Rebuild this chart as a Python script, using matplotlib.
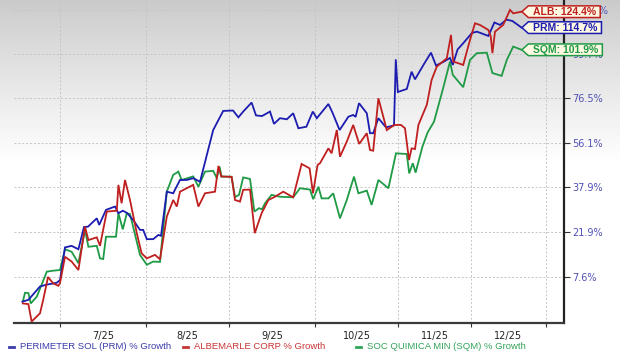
import numpy as np
import matplotlib
matplotlib.use("Agg")
import matplotlib.pyplot as plt
from matplotlib.path import Path
from matplotlib.lines import Line2D
from matplotlib.ticker import NullLocator

# x = trading-day position from the first point, y = % growth
prm_day = [0.1, 1.6, 4.5, 6.0, 8.7, 9.5, 10.75, 12.4, 14.1, 15.5, 16.5, 18.7, 19.3, 21.0, 23.25, 24.1,
           25.2, 26.25, 27.8, 29.5, 30.3, 31.2, 32.8, 34.1, 34.75, 36.2, 37.8, 39.5, 41.2, 42.8, 44.5,
           47.8, 50.3, 52.75, 54.1, 55.3, 57.4, 58.5, 60.0, 62.0, 63.0, 64.5, 66.2, 67.8, 69.1, 71.1,
           72.7, 73.7, 76.6, 77.6, 79.4, 81.6, 82.8, 83.4, 84.25, 86.2, 87.0, 87.8, 89.1, 91.0, 93.0,
           93.45, 93.95, 96.2, 97.4, 98.25, 100.5, 102.25, 103.5, 105.5, 107.0, 107.7, 108.9, 110.3,
           112.5, 113.75, 116.6, 118.1, 119.5, 121.1, 122.6, 124.9]
prm_pct = [0.4, 0.9, 4.7, 5.2, 5.8, 6.6, 16.7, 17.2, 16.1, 23.5, 23.6, 26.5, 24.2, 29.5, 30.7, 28.3,
           29.2, 28.4, 25.9, 22.5, 22.5, 19.4, 19.4, 20.8, 20.5, 36.2, 35.6, 40.7, 40.7, 41.4, 40.0,
           61.6, 70.4, 70.6, 67.4, 70.1, 74.4, 68.3, 68.0, 70.1, 64.4, 67.0, 66.5, 69.3, 62.4, 63.1,
           70.1, 67.0, 73.7, 69.7, 61.6, 67.7, 68.5, 67.6, 74.1, 69.3, 60.2, 60.2, 67.0, 62.8, 63.7,
           96.6, 79.6, 81.1, 90.0, 86.0, 94.1, 100.3, 93.3, 95.4, 97.4, 93.6, 102.1, 105.6,
           111.6, 112.3, 109.8, 117.8, 116.3, 119.5, 118.7, 114.7]

alb_day = [0.2, 1.6, 2.4, 4.5, 5.3, 6.5, 7.8, 9.1, 9.5, 10.75, 12.4, 14.1, 15.75, 16.6, 18.7, 19.5,
           21.2, 23.7, 24.1, 24.9, 25.75, 27.0, 28.7, 29.9, 31.2, 33.25, 34.5, 36.2, 37.8, 38.7, 39.5,
           42.8, 44.1, 45.75, 48.25, 49.1, 49.8, 52.4, 53.25, 54.5, 55.3, 57.0, 58.2, 59.9, 61.6,
           63.25, 65.3, 67.8, 69.9, 71.9, 72.75, 73.9, 74.5, 76.6, 77.4, 78.7, 79.5, 81.2, 82.8, 84.3,
           86.2, 87.0, 87.8, 89.1, 91.2, 93.1, 94.75, 95.75, 96.75, 97.4, 98.25, 99.1, 101.2, 102.4,
           103.7, 106.2, 107.25, 107.8, 109.1, 110.3, 112.0, 113.25, 114.5, 116.6, 117.2, 117.6,
           118.25, 120.3, 122.0, 122.8, 124.9]
alb_pct = [-0.1, -0.3, -5.0, -2.8, 0.9, 7.5, 5.6, 4.9, 5.7, 13.7, 12.2, 9.6, 23.6, 19.1, 20.0, 17.2,
           28.9, 29.2, 38.8, 31.9, 40.7, 33.1, 21.4, 14.8, 13.2, 14.3, 12.9, 27.1, 33.1, 30.7, 36.2,
           38.8, 30.7, 35.6, 36.2, 46.3, 42.1, 41.9, 33.1, 32.5, 36.9, 37.0, 21.4, 28.3, 33.1,
           34.3, 36.2, 34.1, 47.1, 45.3, 35.6, 46.7, 47.4, 53.6, 51.5, 61.6, 50.1, 56.5, 63.9, 55.5,
           60.2, 52.9, 52.6, 76.5, 61.6, 63.9, 63.9, 62.4, 48.7, 53.6, 53.3, 63.9, 73.3, 85.7,
           92.7, 97.2, 110.4, 95.4, 94.5, 93.6, 107.5, 117.3, 116.3, 113.3, 109.4, 100.0,
           112.3, 116.3, 125.5, 123.4, 124.4]

sqm_day = [0.2, 0.75, 1.6, 2.2, 3.7, 4.9, 6.2, 7.8, 9.5, 10.75, 12.4, 14.1, 15.75, 16.6, 18.7, 19.5,
           20.3, 21.0, 23.5, 24.1, 25.2, 26.2, 27.0, 29.5, 31.2, 32.8, 34.5, 36.2, 37.8, 39.1, 39.9,
           42.8, 44.1, 45.75, 47.8, 48.7, 49.4, 49.9, 52.4, 53.25, 54.25, 55.3, 57.0, 58.1, 59.25,
           60.0, 60.75, 62.4, 64.5, 67.8, 69.5, 72.0, 72.8, 74.1, 74.9, 76.6, 77.8, 79.5, 81.2, 83.0,
           84.1, 86.2, 87.4, 89.1, 91.6, 93.5, 96.2, 96.8, 97.7, 98.4, 100.1, 101.4, 103.0, 105.1,
           107.0, 107.7, 110.3, 112.0, 113.7, 116.2, 117.6, 119.9, 121.2, 122.8, 124.9]
sqm_pct = [0.4, 2.9, 2.8, -0.1, 1.8, 5.2, 9.1, 9.4, 9.6, 16.1, 15.3, 11.7, 22.5, 16.9, 17.2, 13.2,
           13.0, 20.2, 20.2, 28.3, 22.7, 28.3, 28.0, 14.3, 11.2, 12.2, 12.1, 36.2, 42.7, 44.0, 40.7,
           42.1, 38.1, 44.0, 44.3, 41.4, 46.0, 42.0, 42.0, 34.2, 35.0, 41.7, 41.1, 28.9, 30.1,
           29.7, 31.9, 35.0, 34.3, 34.1, 37.5, 37.0, 33.4, 38.1, 33.7, 33.7, 35.6, 26.5, 33.1, 42.0,
           35.6, 36.6, 31.3, 40.7, 37.5, 51.5, 51.2, 43.3, 47.4, 43.6, 54.3, 60.5, 65.4, 80.1,
           95.4, 88.3, 82.0, 96.3, 100.0, 100.3, 89.3, 87.8, 96.3, 103.7, 101.9]

month_starts = [9.5, 31.0, 51.75, 73.25, 94.0, 112.25, 131.0]
month_labels = ['7/25', '8/25', '9/25', '10/25', '11/25', '12/25']
ytick_vals = [7.6, 21.9, 37.9, 56.1, 76.5, 99.7, 125.5]

series = [
    ('SQM', sqm_day, sqm_pct, '#1f9a45', 'SOC QUIMICA MIN (SQM) % Growth', '#33a35a'),
    ('PRM', prm_day, prm_pct, '#1c1cb0', 'PERIMETER SOL (PRM) % Growth', '#3b3bab'),
    ('ALB', alb_day, alb_pct, '#c01f1f', 'ALBEMARLE CORP % Growth', '#c83434'),
]


def growth(p):
    return 1 + np.asarray(p) / 100.0


def tag_shape(x0, y0, width, height, mutation_size):
    px = 0.42 * mutation_size
    py = 0.08 * mutation_size
    x0, x1 = x0 - px, x0 + width + px
    y0, y1 = y0 - py, y0 + height + py
    tip = 0.55 * (y1 - y0)
    ym = (y0 + y1) / 2
    verts = [(x0 - tip, ym), (x0, y0), (x1, y0), (x1, y1), (x0, y1), (x0 - tip, ym), (x0 - tip, ym)]
    return Path(verts, closed=True)


fig = plt.figure(figsize=(6.2, 3.57), dpi=100)

# grey-to-white background
bg = fig.add_axes([0, 0, 1, 1], zorder=-10)
rows = np.arange(357)
grad = np.clip(0.79 + 0.21 * (rows / 165.0) ** 0.9, 0, 1).reshape(-1, 1)
bg.imshow(grad, cmap='gray', vmin=0, vmax=1, aspect='auto', extent=[0, 1, 0, 1])
bg.axis('off')

ax = fig.add_axes([14 / 620, 34 / 357, 550 / 620, 323 / 357])
ax.set_facecolor('none')
ax.set_yscale('log')

for tag, d, p, c, name, lc in series:
    ax.plot(d, growth(p), color=c, lw=1.3, solid_joinstyle='miter')

ax.set_xlim(-2, 135.5)
ax.set_ylim(0.9462, 2.318)

ax.set_xticks(month_starts)
ax.set_xticklabels([])
mids = [(month_starts[i] + month_starts[i + 1]) / 2 for i in range(len(month_labels))]
ax.set_xticks(mids, minor=True)
ax.set_xticklabels(month_labels, minor=True)
ax.tick_params(axis='x', which='major', length=3, color='#333333', direction='out')
ax.tick_params(axis='x', which='minor', length=0, pad=5.5, labelsize=7, labelcolor='#222222')

ax.yaxis.tick_right()
ax.set_yticks(growth(ytick_vals))
ax.set_yticklabels([f'{v:.1f}%' for v in ytick_vals])
ax.yaxis.set_minor_locator(NullLocator())
ax.tick_params(axis='y', which='major', length=4, color='#333333', labelsize=7,
               labelcolor='#5050b4', pad=2)

ax.grid(True, which='major', ls=(0, (2, 2)), color='#c4c4c4', lw=0.7)

for s in ['left', 'top']:
    ax.spines[s].set_visible(False)
ax.spines['bottom'].set_color('#3a3a3a')
ax.spines['bottom'].set_linewidth(1.6)
ax.spines['right'].set_color('#222222')
ax.spines['right'].set_linewidth(1.6)

for tag, d, p, c, name, lc in series:
    ax.annotate(f'{tag}: {p[-1]:.1f}%', xy=(d[-1], growth(p[-1])), xytext=(8, 0),
                textcoords='offset points', ha='left', va='center', fontsize=7.5,
                fontweight='bold', color=c, family='Liberation Sans',
                bbox=dict(boxstyle=tag_shape, fc='#fdf8e2', ec=c, lw=1.1),
                annotation_clip=False, zorder=10)

# legend along the bottom
legend_x = {'PRM': 9, 'ALB': 183, 'SQM': 356}
for tag, d, p, c, name, lc in series:
    x0 = legend_x[tag]
    fig.add_artist(Line2D([x0 / 620, (x0 + 5) / 620], [10.5 / 357, 10.5 / 357], color=lc, lw=2,
                          transform=fig.transFigure))
    fig.text((x0 + 11) / 620, 10.5 / 357, name, color=lc, fontsize=6.8, va='center',
             ha='left', family='Liberation Sans')

fig.savefig('out.png', dpi=100)
